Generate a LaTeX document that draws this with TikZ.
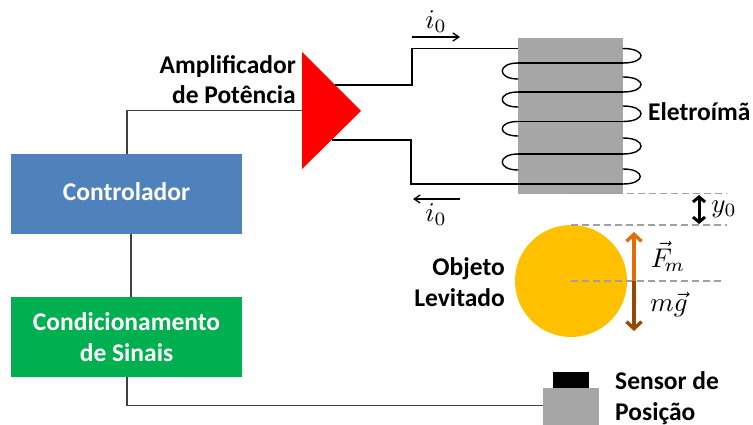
\documentclass[tikz,border=0pt]{standalone}
\usepackage{fontspec}
\setmainfont{Carlito}
\usetikzlibrary{arrows.meta}
\definecolor{ctrlblue}{HTML}{4F81BD}
\definecolor{condgreen}{HTML}{00B050}
\definecolor{coregray}{HTML}{A6A6A6}
\definecolor{ballyellow}{HTML}{FFC000}
\definecolor{forceorange}{HTML}{E36C0A}
\definecolor{forcebrown}{HTML}{984806}
\definecolor{dashgray}{HTML}{A0A0A0}
\tikzset{
  blockbox/.style={rectangle,inner sep=0pt,minimum width=231pt,minimum height=80pt,text=white,align=center,font=\fontsize{25.5}{30.5}\selectfont\bfseries},
  lbl/.style={inner sep=0pt,font=\fontsize{25.5}{30.5}\selectfont\bfseries},
  mathlbl/.style={inner sep=0pt,scale=2.7},
  graybox/.style={rectangle,inner sep=0pt,fill=coregray},
  conn/.style={line width=1.3pt,draw=black!75},
  wire/.style={line width=1.4pt,draw=black},
  coil/.style={line width=1.4pt,draw=black,line cap=round},
  thinarrow/.style={line width=1.3pt,-{Straight Barb[length=6pt,width=8pt]}},
  gap/.style={line width=1.2pt,draw=dashgray,dash pattern=on 7pt off 4pt},
  force/.style={line width=3.4pt,-{Straight Barb[length=7pt,width=15pt,line width=3.4pt]}},
}
\begin{document}
\begin{tikzpicture}[x=1pt,y=-1pt]
\useasboundingbox (0,0) rectangle (753,425);
% blocks
\node[blockbox,fill=ctrlblue] (ctrl) at (126.5,194) {};
\node[font=\fontsize{25.5}{30}\selectfont\bfseries,text=white,inner sep=0pt] (ctrltxt) at (126.5,192) {Controlador};
\node[blockbox,fill=condgreen] (cond) at (126.5,337) {Condicionamento\\de Sinais};
% amplifier
\coordinate (ampa) at (302,52);
\coordinate (ampb) at (302,169);
\coordinate (ampc) at (361,111);
\coordinate (ampin) at (302,110.5);
\coordinate (ampout1) at (335,85);
\coordinate (ampout2) at (332,140);
% core and sensor
\node[graybox,minimum width=105pt,minimum height=156pt] (core) at (570.5,116) {};
\node[graybox,minimum width=56pt,minimum height=37pt,anchor=north west] (sensor) at (543,388) {};
\node[rectangle,inner sep=0pt,fill=black,minimum width=36pt,minimum height=16pt,anchor=south west] (sensorhead) at (553,388) {};
% ball
\node[circle,fill=ballyellow,inner sep=0pt,minimum size=112pt] (ball) at (571,281) {};
% connectors
\draw[conn] (127,154) -- (127,110.5) -- (ampin);
\draw[conn] (131,234) coordinate (ca) -- (131,297) coordinate (cb);
\draw[conn] (127,377) -- (127,405.5) -- (sensor.west |- 0,405.5);
\fill[red] (ampa) -- (ampc) -- (ampb) -- cycle;
% wires
\coordinate (w1) at (518,48.5);
\coordinate (w5) at (623,184);
\draw[wire] (ampout1) -- (412,85) -- (412,48.5) -- (w1);
\draw[wire] (ampout2) -- (411,140) -- (411,184) -- (w5);
% coil
\foreach \ya/\yb/\yc/\yd in {63/79/63/48.5, 92/107/92/77, 121.5/136/121.5/106, 154/170/154/138}{
  \draw[coil] (518,\ya) -- (623,\ya);
  \draw[coil] (518,\ya) .. controls (497,\ya) and (497,\yb) .. (518,\yb);
  \draw[coil] (623,\yd) .. controls (647,\yd) and (647,\yc) .. (623,\yc);
}
\draw[coil] (623,169) .. controls (646,169) and (646,184) .. (623,184);
% current arrows
\coordinate (ia1) at (412,37); \coordinate (ia2) at (460,37);
\coordinate (ib1) at (460,199); \coordinate (ib2) at (413,199);
\draw[thinarrow] (ia1) -- (ia2);
\draw[thinarrow] (ib1) -- (ib2);
\node[mathlbl] (i0a) at (436,22) {$i_0$};
\node[mathlbl] (i0b) at (436,215) {$i_0$};
% dashed
\draw[gap] (572,193.5) -- (727,193.5);
\draw[gap] (571,225) -- (727,225);
\draw[gap] (571,281) -- (725,281);
% gap arrow
\coordinate (g1) at (699,195); \coordinate (g2) at (699,224);
\draw[line width=3pt,{Straight Barb[length=5pt,width=12pt,line width=3pt]}-{Straight Barb[length=5pt,width=12pt,line width=3pt]}] (g1) -- (g2);
\node[mathlbl] (y0) at (724,209) {$y_0$};
% forces
\coordinate (f0) at (634,281); \coordinate (fu) at (634,232); \coordinate (fd) at (634,331);
\draw[force,draw=forceorange] (f0) -- (fu);
\draw[force,draw=forcebrown] (f0) -- (fd);
\node[mathlbl] (fm) at (668,256) {$\vec{F}_{\!m}$};
\node[mathlbl] (mg) at (669,304) {$m\vec{g}$};
% labels
\node[lbl,align=right,anchor=east] (amp) at (296,79.5) {Amplificador\\de Potência};
\node[lbl,anchor=west] (ele) at (648,112) {Eletroímã};
\node[lbl,align=right,anchor=east] (obj) at (505,282) {Objeto\\Levitado};
\node[lbl,align=left,anchor=west] (sen) at (615,398) {Sensor de\\Posição};
\end{tikzpicture}
\end{document}
